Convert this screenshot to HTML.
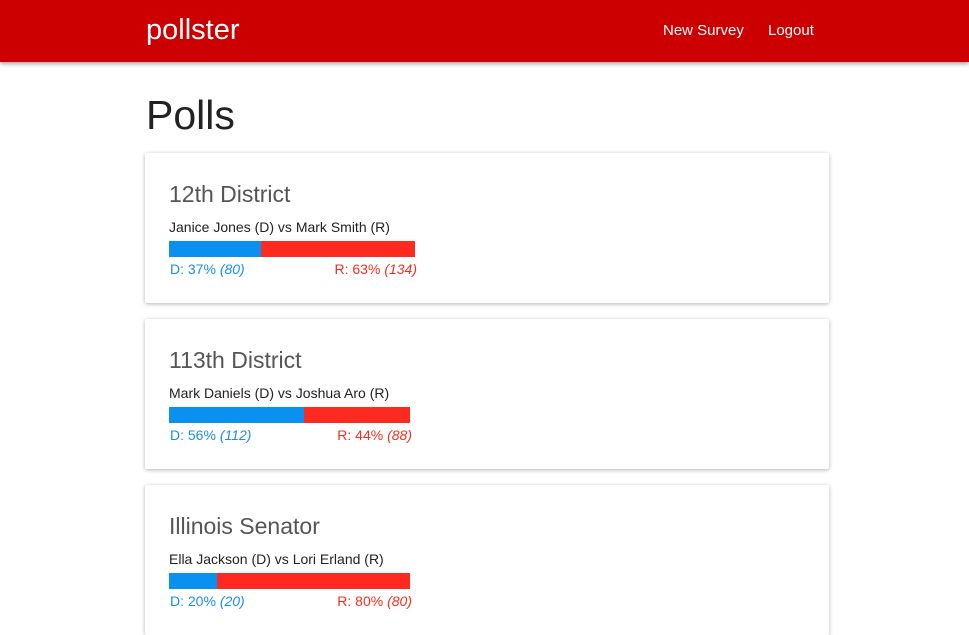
<!DOCTYPE html>
<html><head><meta charset="utf-8"><style>
*{box-sizing:border-box;margin:0;padding:0}
body{width:969px;height:619px;overflow:hidden;background:#fff;font-family:"Liberation Sans",sans-serif;color:#222}
.hdr{position:absolute;left:0;top:0;width:969px;height:62px;background:#cc0000;box-shadow:0 2px 4px rgba(0,0,0,.35)}
.logo{position:absolute;left:146px;top:14px;color:#fff;font-size:29px}
.nav{position:absolute;top:22px;color:#fff;font-size:15px}
h1{position:absolute;left:146px;top:92px;font-size:41px;font-weight:normal;color:#222}
.card{position:absolute;left:145px;width:684px;height:150px;background:#fff;box-shadow:0 1px 4px rgba(0,0,0,.3);border-radius:2px}
.title{position:absolute;left:24px;top:28px;font-size:23px;color:#555;font-weight:300}
.sub{position:absolute;left:24px;top:66px;font-size:14px;color:#222}
.bar{position:absolute;left:24px;top:88px;height:16px;background:#ff2a1f}
.bar .d{height:16px;background:#0a90ef}
.lbl{position:absolute;left:25px;top:108px;font-size:14px;display:flex;justify-content:space-between}
.lbl .dl{color:#1a8ee8}.lbl .rl{color:#f03020}
</style></head><body>
<div class="hdr">
<div class="logo">pollster</div>
<div class="nav" style="left:663px">New Survey</div>
<div class="nav" style="left:768px">Logout</div>
</div>
<h1>Polls</h1>
<div id="cards"></div>
<script>
const titles=["12th District","113th District","Illinois Senator"];
const matchups=["Janice Jones (D) vs Mark Smith (R)","Mark Daniels (D) vs Joshua Aro (R)","Ella Jackson (D) vs Lori Erland (R)"];
const dVotes=[80,112,20];
const rVotes=[134,88,80];
const barW=[246,241,241];
const tops=[153,319,485];
const c=document.getElementById('cards');
titles.forEach((t,i)=>{
 const tot=dVotes[i]+rVotes[i];
 const dp=Math.round(dVotes[i]/tot*100), rp=100-dp;
 const card=document.createElement('div');card.className='card';card.style.top=tops[i]+'px';
 
 
 card.innerHTML=`<div class="title">${t}</div>
<div class="sub">${matchups[i]}</div>
<div class="bar" style="width:${barW[i]}px"><div class="d" style="width:${dVotes[i]/tot*100}%"></div></div>
<div class="lbl" style="width:${barW[i]+1}px"><span class="dl">D: ${dp}% <i>(${dVotes[i]})</i></span><span class="rl">R: ${rp}% <i>(${rVotes[i]})</i></span></div>`;
 c.appendChild(card);
});
</script>
</body></html>
